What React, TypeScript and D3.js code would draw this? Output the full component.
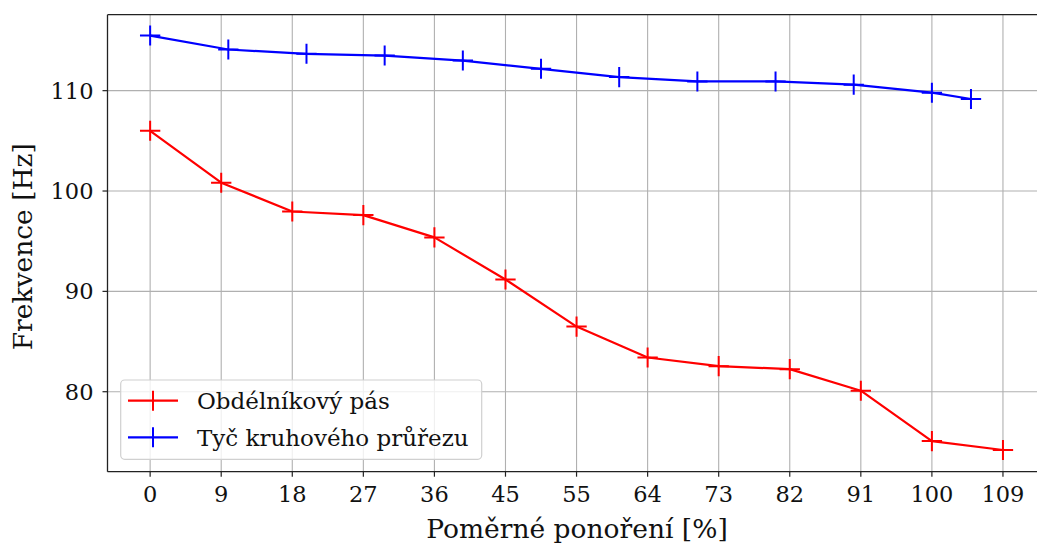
import React from "react";
import * as d3 from "d3";

const xTickValues = [0, 1, 2, 3, 4, 5, 6, 7, 8, 9, 10, 11, 12].map((i) => (i * 100) / 11);
const xTickLabels = ["0", "9", "18", "27", "36", "45", "55", "64", "73", "82", "91", "100", "109"];
const yTickValues = [80, 90, 100, 110];

const redX = [0, 1, 2, 3, 4, 5, 6, 7, 8, 9, 10, 11, 12].map((i) => (i * 100) / 11);
const redY = [106.0, 100.83, 97.96, 97.6, 95.38, 91.18, 86.49, 83.41, 82.55, 82.25, 80.1, 75.08, 74.19];

const blueX = [0, 10, 20, 30, 40, 50, 60, 70, 80, 90, 100, 105];
const blueY = [115.49, 114.1, 113.67, 113.5, 113.0, 112.18, 111.35, 110.92, 110.92, 110.6, 109.8, 109.17];

const xErr = 1.3;
const yErr = 1.0;

const seriesNames = ["Obdélníkový pás", "Tyč kruhového průřezu"];
const seriesColors = ["#ff0000", "#0000ff"];

const W = 1037;
const H = 544;
const left = 107.5;
const top = 14.7;
const bottom = 471.7;
const right = 1045.6;

export default function App() {
  const x = d3.scaleLinear().domain([-5.4545, 114.545]).range([left, right]);
  const y = d3.scaleLinear().domain([72.03, 117.57]).range([bottom, top]);
  const font = "DejaVu Serif";

  const series = [
    { xs: redX, ys: redY, color: seriesColors[0] },
    { xs: blueX, ys: blueY, color: seriesColors[1] },
  ];

  const line = d3
    .line<[number, number]>()
    .x((d) => x(d[0]))
    .y((d) => y(d[1]));

  return (
    <svg
      width={W}
      height={H}
      style={{ position: "absolute", left: 0, top: 0, display: "block", background: "#fff", overflow: "hidden" }}
      fontFamily={font}
    >
      <defs>
        <clipPath id="plotclip">
          <rect x={left} y={top} width={right - left} height={bottom - top} />
        </clipPath>
      </defs>
      {/* grid */}
      <g stroke="#b0b0b0" strokeWidth={1.1}>
        {xTickValues.map((v, i) => (
          <line key={"gx" + i} x1={x(v)} x2={x(v)} y1={top} y2={bottom} />
        ))}
        {yTickValues.map((v, i) => (
          <line key={"gy" + i} x1={left} x2={right} y1={y(v)} y2={y(v)} />
        ))}
      </g>
      {/* series */}
      <g clipPath="url(#plotclip)">
        {series.map((s, si) => {
          const pts: [number, number][] = s.xs.map((xv, i) => [xv, s.ys[i]]);
          return (
            <g key={"s" + si}>
              <path d={line(pts) || ""} fill="none" stroke={s.color} strokeWidth={2.2} strokeLinejoin="round" />
              {pts.map((p, i) => (
                <g key={i} stroke={s.color} strokeWidth={2}>
                  <line x1={x(p[0] - xErr)} x2={x(p[0] + xErr)} y1={y(p[1])} y2={y(p[1])} />
                  <line x1={x(p[0])} x2={x(p[0])} y1={y(p[1] - yErr)} y2={y(p[1] + yErr)} />
                </g>
              ))}
            </g>
          );
        })}
      </g>
      {/* spines */}
      <g stroke="#222" strokeWidth={1.3} fill="none">
        <line x1={left} x2={left} y1={top} y2={bottom} />
        <line x1={left} x2={W} y1={top} y2={top} />
        <line x1={left} x2={W} y1={bottom} y2={bottom} />
      </g>
      {/* x ticks */}
      <g>
        {xTickValues.map((v, i) => (
          <g key={"xt" + i}>
            <line x1={x(v)} x2={x(v)} y1={bottom} y2={bottom + 5} stroke="#222" strokeWidth={1.2} />
            <text x={x(v)} y={502} textAnchor="middle" fontSize={22.5} fill="#111">
              {xTickLabels[i]}
            </text>
          </g>
        ))}
      </g>
      {/* y ticks */}
      <g>
        {yTickValues.map((v, i) => (
          <g key={"yt" + i}>
            <line x1={left - 5} x2={left} y1={y(v)} y2={y(v)} stroke="#222" strokeWidth={1.2} />
            <text x={93.5} y={y(v)} dy="0.36em" textAnchor="end" fontSize={22.5} fill="#111">
              {v}
            </text>
          </g>
        ))}
      </g>
      {/* axis labels */}
      <text x={577} y={537.5} textAnchor="middle" fontSize={26.5} fill="#111">
        Poměrné ponoření [%]
      </text>
      <text transform={`translate(32, 246.7) rotate(-90)`} textAnchor="middle" fontSize={26.5} fill="#111">
        Frekvence [Hz]
      </text>
      {/* legend */}
      <g>
        <rect x={120.7} y={380} width={361} height={79.3} rx={4} fill="#fff" fillOpacity={0.8} stroke="#d0d0d0" strokeWidth={1.2} />
        {seriesNames.map((name, i) => {
          const cy = 400.7 + i * 36.6;
          return (
            <g key={"lg" + i}>
              <line x1={128} x2={178} y1={cy} y2={cy} stroke={seriesColors[i]} strokeWidth={2.2} />
              <line x1={153} x2={153} y1={cy - 10} y2={cy + 10} stroke={seriesColors[i]} strokeWidth={2} />
              <text x={197} y={cy} dy="0.36em" fontSize={23} fill="#111">
                {name}
              </text>
            </g>
          );
        })}
      </g>
    </svg>
  );
}
